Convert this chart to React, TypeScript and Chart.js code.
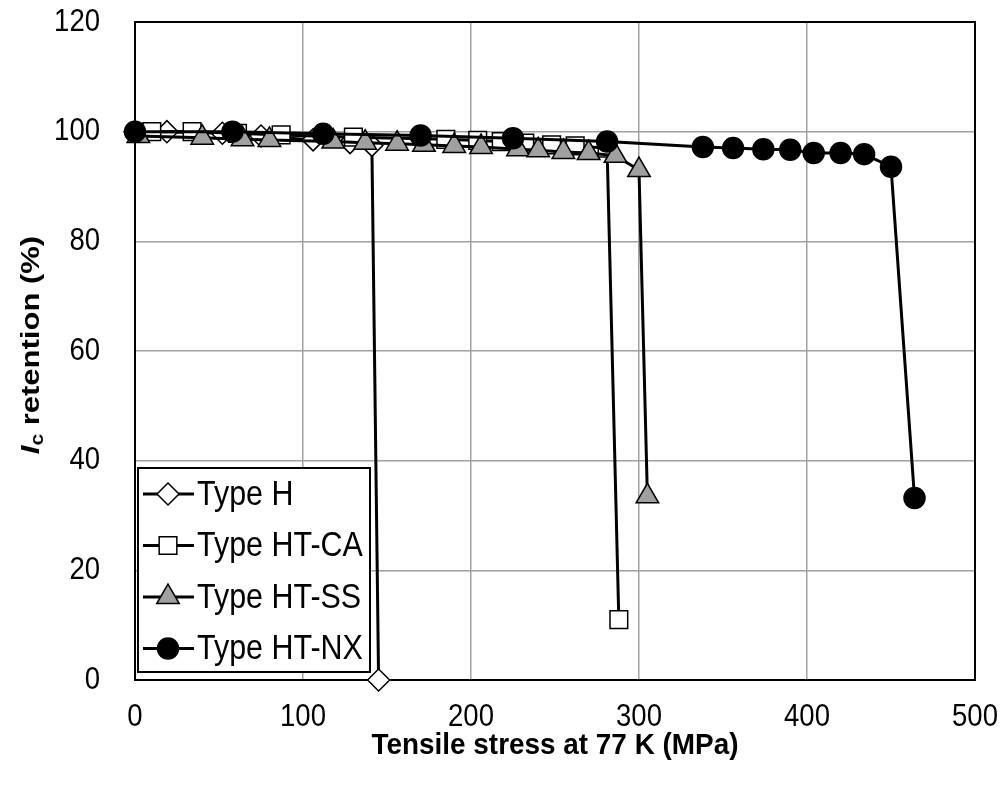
import { useEffect, useRef } from 'react';
import { Chart, registerables } from 'chart.js';

Chart.register(...registerables);

// ---- Data ----
const seriesNames = ['Type H', 'Type HT-CA', 'Type HT-SS', 'Type HT-NX'];

const stressH = [0, 19, 52, 75, 106, 128, 141, 145];
const retentionH = [100, 100, 99.7, 99.2, 98.5, 98.0, 97.5, 0];

const stressCA = [10, 34, 61, 87, 130, 185, 204, 218, 232, 248, 262, 281, 288];
const retentionCA = [100, 100, 99.7, 99.4, 99.0, 98.6, 98.4, 98.2, 97.9, 97.6, 97.4, 97.0, 11];

const stressSS = [2, 40, 64, 80, 118, 137, 156, 172, 190, 206, 228, 240, 255, 270, 286, 300, 305];
const retentionSS = [99.2, 98.9, 98.6, 98.5, 98.2, 98.0, 97.8, 97.6, 97.4, 97.2, 96.8, 96.6, 96.3, 96.1, 95.6, 93.0, 33.5];

const stressNX = [0, 58, 112, 170, 225, 281, 338, 356, 374, 390, 404, 420, 434, 450, 464];
const retentionNX = [100, 100, 99.6, 99.3, 98.8, 98.2, 97.2, 97.0, 96.8, 96.7, 96.1, 96.1, 95.9, 93.6, 33.2];

const xTicks = [0, 100, 200, 300, 400, 500];
const yTicks = [0, 20, 40, 60, 80, 100, 120];

const SANS = "'Liberation Sans', Arial, sans-serif";
const SQUEEZE = 0.86;

function zip(xs: number[], ys: number[]) {
  return xs.map((x, i) => ({ x, y: ys[i] }));
}

const markerStyles = [
  { pointStyle: 'rectRot', radius: 11, bg: '#ffffff' },
  { pointStyle: 'rect', radius: 12.5, bg: '#ffffff' },
  { pointStyle: 'triangle', radius: 13, bg: '#a0a0a0' },
  { pointStyle: 'circle', radius: 10.5, bg: '#000000' },
];

function drawMarker(ctx: CanvasRenderingContext2D, style: string, x: number, y: number, r: number, bg: string) {
  ctx.save();
  ctx.beginPath();
  if (style === 'rectRot') {
    ctx.moveTo(x - r, y);
    ctx.lineTo(x, y - r);
    ctx.lineTo(x + r, y);
    ctx.lineTo(x, y + r);
    ctx.closePath();
  } else if (style === 'rect') {
    const s = Math.SQRT1_2 * r;
    ctx.rect(x - s, y - s, 2 * s, 2 * s);
  } else if (style === 'triangle') {
    ctx.moveTo(x, y - r);
    ctx.lineTo(x + Math.sin(Math.PI * 2 / 3) * r, y - Math.cos(Math.PI * 2 / 3) * r);
    ctx.lineTo(x + Math.sin(Math.PI * 4 / 3) * r, y - Math.cos(Math.PI * 4 / 3) * r);
    ctx.closePath();
  } else {
    ctx.arc(x, y, r, 0, Math.PI * 2);
  }
  ctx.fillStyle = bg;
  ctx.fill();
  ctx.lineWidth = 1.5;
  ctx.strokeStyle = '#000';
  ctx.stroke();
  ctx.restore();
}

// text drawn with horizontal squeeze (condensed look of the reference)
function squeezedText(
  ctx: CanvasRenderingContext2D,
  text: string,
  x: number,
  y: number,
  font: string,
  sx: number,
  align: CanvasTextAlign,
) {
  ctx.save();
  ctx.font = font;
  ctx.fillStyle = '#000';
  ctx.textBaseline = 'middle';
  ctx.textAlign = align;
  ctx.translate(x, y);
  ctx.scale(sx, 1);
  ctx.fillText(text, 0, 0);
  ctx.restore();
}

const framePlugin = {
  id: 'frame',
  beforeDatasetsDraw(chart: any) {
    const { ctx, chartArea } = chart;
    ctx.save();
    ctx.strokeStyle = '#000';
    ctx.lineWidth = 2;
    ctx.strokeRect(chartArea.left, chartArea.top, chartArea.right - chartArea.left, chartArea.bottom - chartArea.top);
    ctx.restore();
  },
  afterDraw(chart: any) {
    const { ctx, chartArea } = chart;
    const xs = chart.scales.x;
    const ys = chart.scales.y;

    // tick labels
    for (const v of xTicks) {
      squeezedText(ctx, String(v), xs.getPixelForValue(v), chartArea.bottom + 37, `32px ${SANS}`, SQUEEZE, 'center');
    }
    for (const v of yTicks) {
      squeezedText(ctx, String(v), chartArea.left - 35, ys.getPixelForValue(v), `32px ${SANS}`, SQUEEZE, 'right');
    }

    // Legend box inside plot, bottom-left
    const bx = chartArea.left + 3;
    const by = chartArea.bottom - 212;
    const bw = 232;
    const bh = 204;
    ctx.save();
    ctx.fillStyle = '#fff';
    ctx.fillRect(bx, by, bw, bh);
    ctx.strokeStyle = '#000';
    ctx.lineWidth = 2;
    ctx.strokeRect(bx, by, bw, bh);
    ctx.restore();
    const rowH = 51.5;
    for (let i = 0; i < seriesNames.length; i++) {
      const cy = by + 26 + i * rowH;
      ctx.save();
      ctx.beginPath();
      ctx.moveTo(bx + 5, cy);
      ctx.lineTo(bx + 56, cy);
      ctx.lineWidth = 3;
      ctx.strokeStyle = '#000';
      ctx.stroke();
      ctx.restore();
      const m = markerStyles[i];
      drawMarker(ctx, m.pointStyle, bx + 30, cy, m.radius, m.bg);
      squeezedText(ctx, seriesNames[i], bx + 59, cy + 1, `35px ${SANS}`, 0.87, 'left');
    }

    // X axis title
    squeezedText(
      ctx,
      'Tensile stress at 77 K (MPa)',
      (chartArea.left + chartArea.right) / 2,
      746,
      `bold 30px ${SANS}`,
      0.93,
      'center',
    );

    // Y axis title with italic I and subscript c (rotated)
    ctx.save();
    ctx.translate(32, 345);
    ctx.rotate(-Math.PI / 2);
    ctx.scale(1, 0.85);
    ctx.fillStyle = '#000';
    ctx.textBaseline = 'middle';
    const partI = 'I';
    const partC = 'c';
    const partRest = ' retention (%)';
    const fI = `italic bold 31px ${SANS}`;
    const fC = `bold 21px ${SANS}`;
    const fR = `bold 31px ${SANS}`;
    ctx.font = fI;
    const wI = ctx.measureText(partI).width;
    ctx.font = fC;
    const wC = ctx.measureText(partC).width;
    ctx.font = fR;
    const wR = ctx.measureText(partRest).width;
    let x0 = -(wI + wC + wR) / 2;
    ctx.textAlign = 'left';
    ctx.font = fI;
    ctx.fillText(partI, x0, 0);
    x0 += wI;
    ctx.font = fC;
    ctx.fillText(partC, x0, 7);
    x0 += wC;
    ctx.font = fR;
    ctx.fillText(partRest, x0, 0);
    ctx.restore();
  },
};

export default function App() {
  const canvasRef = useRef<HTMLCanvasElement | null>(null);

  useEffect(() => {
    if (!canvasRef.current) return;
    const lists = [
      zip(stressH, retentionH),
      zip(stressCA, retentionCA),
      zip(stressSS, retentionSS),
      zip(stressNX, retentionNX),
    ];
    const orders = [3, 2, 1, 0];
    const chart = new Chart(canvasRef.current, {
      type: 'line',
      data: {
        datasets: lists.map((d, i) => ({
          label: seriesNames[i],
          data: d,
          borderColor: '#000',
          borderWidth: 3,
          pointStyle: markerStyles[i].pointStyle as any,
          pointRadius: markerStyles[i].radius,
          pointBackgroundColor: markerStyles[i].bg,
          pointBorderColor: '#000',
          pointBorderWidth: 1.5,
          tension: 0,
          clip: false as any,
          order: orders[i],
        })),
      },
      options: {
        animation: false,
        responsive: false,
        maintainAspectRatio: false,
        events: [],
        layout: { padding: { left: 0, top: 22, right: 28, bottom: 0 } },
        plugins: {
          legend: { display: false },
          tooltip: { enabled: false },
          title: { display: false },
        },
        scales: {
          x: {
            type: 'linear',
            min: 0,
            max: 500,
            afterBuildTicks: (scale: any) => {
              scale.ticks = xTicks.map((v) => ({ value: v }));
            },
            afterFit: (scale: any) => {
              scale.height = 107;
              scale.paddingLeft = 0;
              scale.paddingRight = 0;
            },
            grid: { color: '#a0a0a0', lineWidth: 1.5, drawTicks: false },
            border: { display: true, color: '#000', width: 2 },
            ticks: { display: false },
          },
          y: {
            type: 'linear',
            min: 0,
            max: 120,
            afterBuildTicks: (scale: any) => {
              scale.ticks = yTicks.map((v) => ({ value: v }));
            },
            afterFit: (scale: any) => {
              scale.width = 135;
              scale.paddingTop = 0;
              scale.paddingBottom = 0;
            },
            grid: { color: '#a0a0a0', lineWidth: 1.5, drawTicks: false },
            border: { display: true, color: '#000', width: 2 },
            ticks: { display: false },
          },
        },
      },
      plugins: [framePlugin],
    });
    return () => chart.destroy();
  }, []);

  return (
    <div style={{ position: 'fixed', left: 0, top: 0, width: 1003, height: 787, background: '#fff' }}>
      <canvas ref={canvasRef} width={1003} height={787} style={{ width: 1003, height: 787, display: 'block' }} />
    </div>
  );
}
